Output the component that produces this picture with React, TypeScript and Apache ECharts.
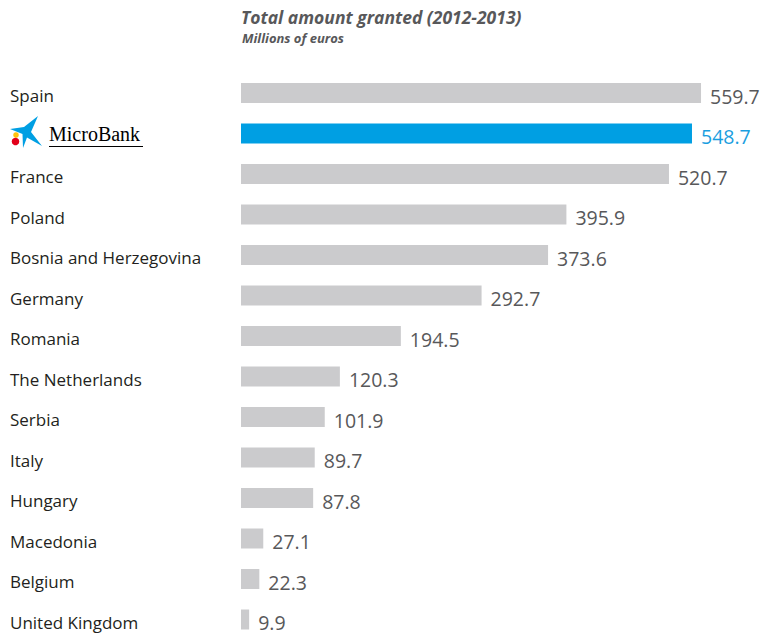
import React, { useEffect, useRef } from "react";
import * as echarts from "echarts";

const categories = [
  "Spain",
  "MicroBank",
  "France",
  "Poland",
  "Bosnia and Herzegovina",
  "Germany",
  "Romania",
  "The Netherlands",
  "Serbia",
  "Italy",
  "Hungary",
  "Macedonia",
  "Belgium",
  "United Kingdom",
];
const values = [559.7, 548.7, 520.7, 395.9, 373.6, 292.7, 194.5, 120.3, 101.9, 89.7, 87.8, 27.1, 22.3, 9.9];
const highlight = "MicroBank";
const titleText = "Total amount granted (2012-2013)";
const subtitleText = "Millions of euros";

export default function App() {
  const ref = useRef<HTMLDivElement>(null);
  useEffect(() => {
    if (!ref.current) return;
    const chart = echarts.init(ref.current, null, { renderer: "svg" });
    const font = "'Open Sans', 'Noto Sans', sans-serif";
    const gray = "#cbcbcd";
    const blue = "#009fe3";
    chart.setOption({
      animation: false,
      backgroundColor: "#ffffff",
      title: [
        {
          text: titleText,
          left: 241,
          top: 8,
          padding: 0,
          textStyle: {
            fontFamily: font,
            fontSize: 17.5,
            lineHeight: 18,
            fontStyle: "italic",
            fontWeight: "bold",
            color: "#58585a",
          },
        },
        {
          text: subtitleText,
          left: 242,
          top: 31,
          padding: 0,
          textStyle: {
            fontFamily: font,
            fontSize: 13,
            lineHeight: 14,
            fontStyle: "italic",
            fontWeight: "bold",
            color: "#58585a",
          },
        },
      ],
      grid: { left: 241, right: 26.85, top: 72.75, bottom: 60.25, containLabel: false },
      xAxis: {
        type: "value",
        min: 0,
        max: 600,
        show: false,
      },
      yAxis: {
        type: "category",
        inverse: true,
        data: categories,
        axisLine: { show: false },
        axisTick: { show: false },
        splitLine: { show: false },
        axisLabel: {
          align: "left",
          margin: 231,
          fontFamily: font,
          fontSize: 17,
          color: "#231f20",
          padding: [5, 0, 0, 0],
          formatter: (v: string) => (v === highlight ? "{mb|MicroBank}" : v),
          rich: {
            mb: {
              fontFamily: "'Liberation Serif', 'DejaVu Serif', serif",
              fontSize: 20,
              color: "#000000",
              padding: [0, 0, 5, 39],
            },
          },
        },
      },
      series: [
        {
          type: "bar",
          barWidth: 20,
          data: categories.map((c, i) => ({
            value: values[i],
            itemStyle: { color: c === highlight ? blue : gray },
            label: { color: c === highlight ? "#1a9ee0" : "#58585a" },
          })),
          label: {
            show: true,
            position: "right",
            distance: 9,
            offset: [0, 3],
            fontFamily: font,
            fontSize: 19.5,
            formatter: (p: any) => Number(p.value).toFixed(1),
          },
        },
      ],
      graphic: [
        {
          type: "polygon",
          shape: {
            points: [
              [10, 129],
              [24, 127],
              [38, 116],
              [31, 132],
              [42, 146],
              [27, 137.5],
              [23, 148],
              [22.5, 134],
            ],
          },
          style: { fill: blue },
        },
        { type: "circle", shape: { cx: 16, cy: 135, r: 2.8 }, style: { fill: "#ffc20e" } },
        { type: "circle", shape: { cx: 15.5, cy: 141.5, r: 3.8 }, style: { fill: "#e2001a" } },
        {
          type: "line",
          shape: { x1: 49, y1: 146.5, x2: 143, y2: 146.5 },
          style: { stroke: "#000000", lineWidth: 1.2 },
        },
      ],
    });
    return () => chart.dispose();
  }, []);
  return (
    <div
      ref={ref}
      style={{ position: "fixed", left: 0, top: 0, width: 761, height: 700 }}
    />
  );
}
